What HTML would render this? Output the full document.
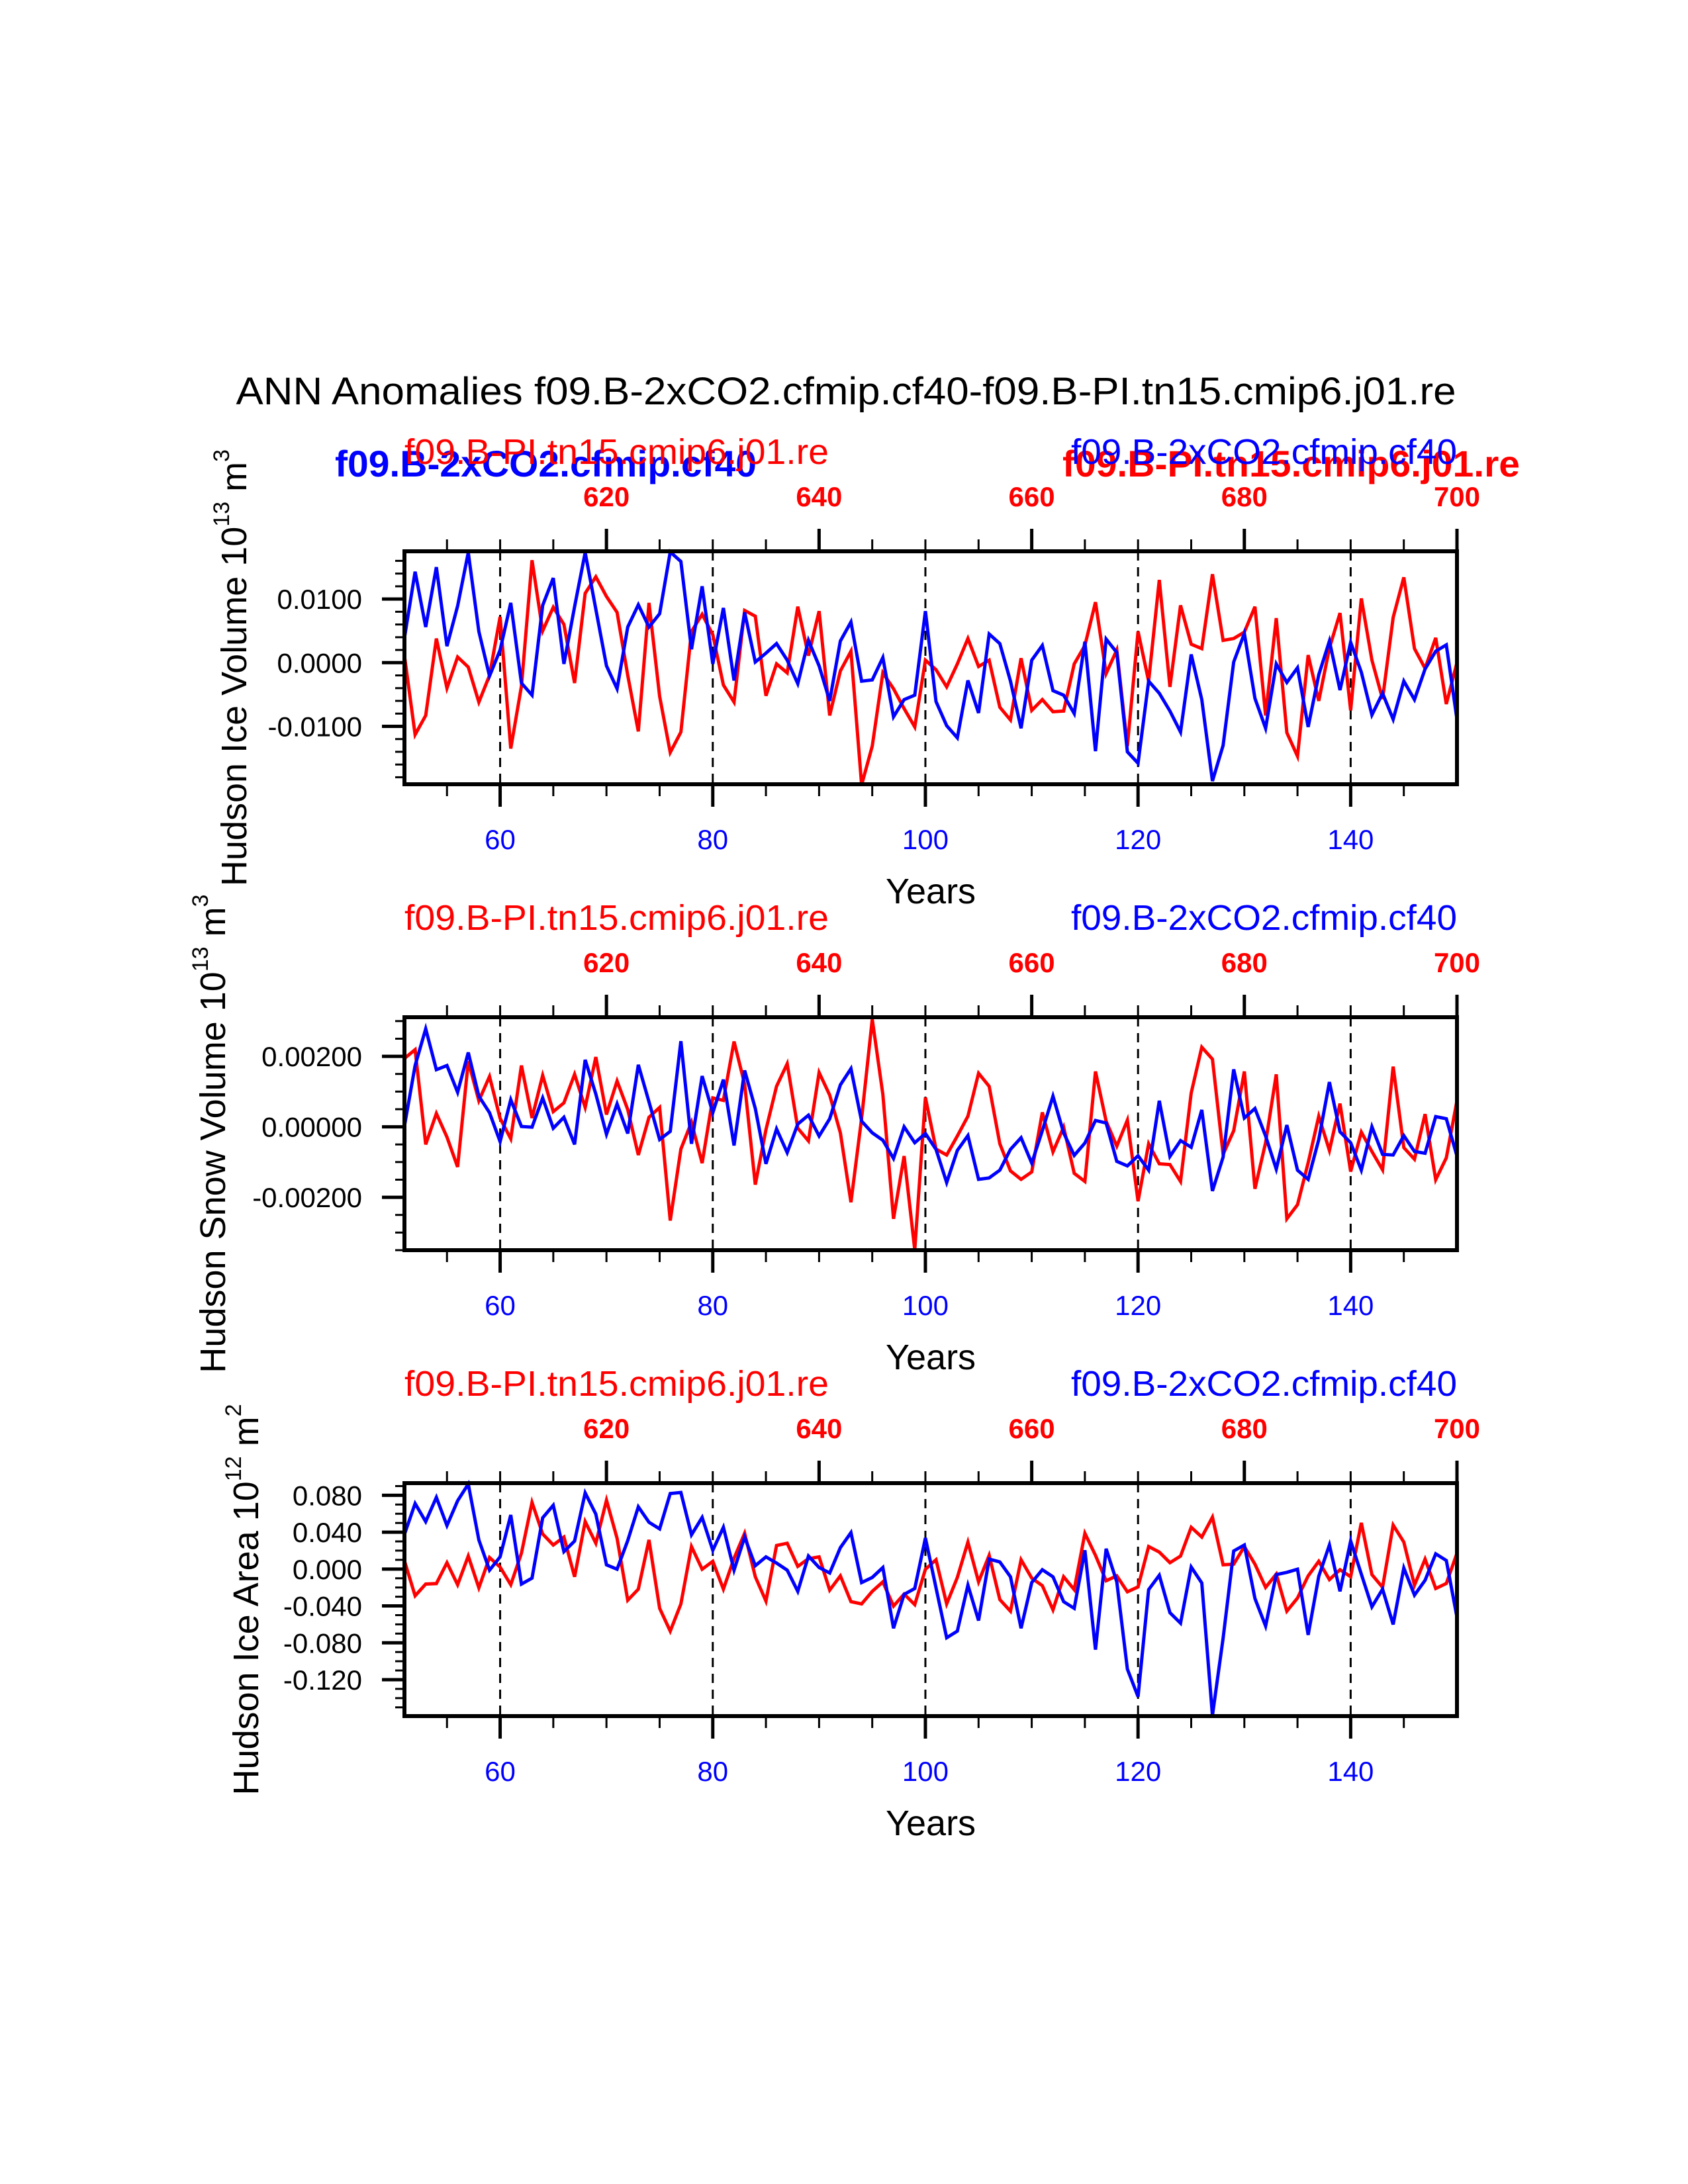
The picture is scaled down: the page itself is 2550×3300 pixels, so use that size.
<!DOCTYPE html>
<html><head><meta charset="utf-8">
<style>
html,body{margin:0;padding:0;background:#fff;}
svg{display:block;font-family:"Liberation Sans",Arial,sans-serif;}
</style></head>
<body>
<svg id="chart" xmlns="http://www.w3.org/2000/svg" width="2550" height="3300" viewBox="0 0 2550 3300">
<rect width="2550" height="3300" fill="#fff"/>
<text x="1278" y="611" font-size="58" text-anchor="middle" textLength="1843" lengthAdjust="spacingAndGlyphs">ANN Anomalies f09.B-2xCO2.cfmip.cf40-f09.B-PI.tn15.cmip6.j01.re</text>
</svg>
<script>
// ---------- data (years 51..150) ----------
const years = Array.from({length:100},(_,i)=>51+i);
const iceVolB = [0.0039,0.0143,0.0056,0.015,0.0026,0.0089,0.0173,0.0049,-0.0021,0.002,0.0094,-0.0032,-0.0051,0.009,0.0133,-0.0002,0.0088,0.0173,0.0084,-0.0005,-0.0041,0.0056,0.0091,0.0056,0.0077,0.0174,0.0159,0.0021,0.012,-0.0002,0.0086,-0.0028,0.0079,0.0001,0.0015,0.003,0.0004,-0.0033,0.0035,-0.0005,-0.006,0.0034,0.0064,-0.0029,-0.0027,0.0008,-0.0085,-0.0058,-0.0051,0.0081,-0.0061,-0.0099,-0.0118,-0.0028,-0.0079,0.0045,0.003,-0.0029,-0.0103,0.0004,0.0027,-0.0044,-0.0051,-0.008,0.0033,-0.0139,0.0037,0.0016,-0.014,-0.0158,-0.0029,-0.0048,-0.0076,-0.0109,0.0013,-0.0058,-0.0186,-0.013,0.0001,0.0046,-0.0056,-0.0103,-0.0002,-0.0031,-0.0008,-0.0101,-0.0019,0.0034,-0.0043,0.0032,-0.0015,-0.0082,-0.0048,-0.0089,-0.0029,-0.0058,-0.001,0.0018,0.0028,-0.0089];
const iceVolR = [0.0011,-0.0113,-0.0083,0.0038,-0.004,0.0009,-0.0007,-0.0062,-0.002,0.0072,-0.0135,-0.0037,0.0161,0.005,0.0087,0.006,-0.0032,0.0109,0.0135,0.0104,0.0079,-0.002,-0.0108,0.0094,-0.0053,-0.0141,-0.0109,0.0049,0.0076,0.0044,-0.0035,-0.0062,0.0082,0.0073,-0.0052,-0.0002,-0.0016,0.0088,0.0011,0.0081,-0.0083,-0.0013,0.0018,-0.0192,-0.0131,-0.0016,-0.0041,-0.0072,-0.0101,0.0004,-0.0011,-0.0038,-0.0002,0.0038,-0.0006,0.0004,-0.007,-0.009,0.0007,-0.0075,-0.0058,-0.0077,-0.0076,-0.0002,0.0027,0.0095,-0.0017,0.002,-0.0131,0.0049,-0.0029,0.013,-0.0038,0.009,0.0029,0.0022,0.0139,0.0035,0.0038,0.0048,0.0088,-0.0083,0.007,-0.011,-0.0147,0.0012,-0.006,0.0023,0.0078,-0.0075,0.0101,0.0004,-0.0057,0.0071,0.0134,0.0022,-0.0009,0.0039,-0.0065,0.0];
const snowB = [0.00002,0.00174,0.00278,0.00162,0.00174,0.00098,0.00211,0.00087,0.0004,-0.00042,0.00077,0.00001,-0.00001,0.00082,-0.00004,0.00027,-0.0005,0.0019,0.00093,-0.00021,0.00065,-0.00019,0.00176,0.00071,-0.00036,-0.00013,0.00243,-0.00048,0.00144,0.0004,0.00134,-0.00053,0.0016,0.00052,-0.00105,-0.00006,-0.00073,0.00008,0.00033,-0.00026,0.00023,0.00119,0.00165,0.00016,-0.00017,-0.00038,-0.0009,0.0,-0.00045,-0.00019,-0.00064,-0.00158,-0.00067,-0.00025,-0.00149,-0.00145,-0.00123,-0.00064,-0.00031,-0.00103,-0.00011,0.00087,-0.00017,-0.00081,-0.00046,0.00018,0.00011,-0.00098,-0.00111,-0.00082,-0.00123,0.00074,-0.00084,-0.00039,-0.00058,0.00048,-0.00182,-0.00086,0.00163,0.00025,0.00052,-0.00026,-0.0012,0.00005,-0.00123,-0.00149,-0.00036,0.00127,-0.00014,-0.00045,-0.00123,0.0,-0.00078,-0.0008,-0.00025,-0.0007,-0.00075,0.00029,0.00023,-0.00083];
const snowR = [0.00194,0.00219,-0.0005,0.00038,-0.00029,-0.00114,0.00186,0.00074,0.00143,0.00024,-0.00034,0.00174,0.00025,0.00146,0.00043,0.00068,0.00149,0.00055,0.00198,0.00035,0.0013,0.00049,-0.0008,0.00027,0.00055,-0.00266,-0.00063,0.00013,-0.00103,0.00082,0.00075,0.00242,0.00121,-0.00164,-0.00008,0.00115,0.00179,-0.00004,-0.0004,0.00154,0.0009,-0.00017,-0.00214,0.00024,0.00305,0.00092,-0.00261,-0.00083,-0.00349,0.00083,-0.00063,-0.0008,-0.00026,0.0003,0.00152,0.00115,-0.00048,-0.00125,-0.00149,-0.00128,0.00041,-0.00071,-0.00001,-0.00132,-0.00155,0.00157,0.00016,-0.00055,0.00019,-0.00211,-0.00048,-0.00105,-0.00107,-0.00155,0.00096,0.00226,0.00192,-0.00078,-0.00011,0.00157,-0.00176,-0.00045,0.00149,-0.00261,-0.00221,-0.00102,0.0003,-0.00067,0.00066,-0.00127,-0.00015,-0.0007,-0.00122,0.00171,-0.00059,-0.00092,0.00036,-0.0015,-0.00088,0.00074];
const areaB = [0.0376,0.0711,0.0515,0.0778,0.0472,0.074,0.0922,0.0316,-0.0012,0.0132,0.0587,-0.0163,-0.0098,0.0556,0.0692,0.0189,0.0304,0.0826,0.0596,0.0046,-0.0002,0.0309,0.0675,0.0508,0.0436,0.0819,0.0831,0.0371,0.056,0.0204,0.0453,-0.0012,0.0347,0.0036,0.0132,0.0065,-0.0012,-0.0242,0.0141,0.0017,-0.0043,0.0232,0.0395,-0.0146,-0.0091,0.0017,-0.0642,-0.0275,-0.0211,0.0337,-0.0204,-0.0745,-0.0673,-0.0175,-0.0558,0.0108,0.0077,-0.0084,-0.0642,-0.0146,-0.0007,-0.0084,-0.0354,-0.0426,0.0204,-0.0874,0.022,-0.0139,-0.1085,-0.1384,-0.0223,-0.0067,-0.0474,-0.0587,0.0022,-0.0151,-0.1588,-0.075,0.0196,0.0261,-0.0319,-0.0618,-0.006,-0.0036,-0.0002,-0.0714,-0.0079,0.0261,-0.0242,0.0304,-0.0055,-0.041,-0.0218,-0.0601,0.0012,-0.0283,-0.0122,0.0165,0.0093,-0.0522];
const areaR = [0.0089,-0.029,-0.0163,-0.0158,0.0069,-0.017,0.0141,-0.0204,0.0125,0.0022,-0.017,0.0172,0.0723,0.0381,0.0261,0.0347,-0.0084,0.0515,0.028,0.0747,0.0333,-0.0338,-0.0218,0.0316,-0.0426,-0.0673,-0.0378,0.0244,-0.0002,0.0084,-0.0218,0.0117,0.0388,-0.0084,-0.0347,0.0256,0.028,0.0029,0.0113,0.0132,-0.0228,-0.0074,-0.0354,-0.0378,-0.0242,-0.0139,-0.0402,-0.0271,-0.0386,-0.0003,0.0101,-0.0378,-0.0091,0.0292,-0.0139,0.0149,-0.0331,-0.0457,0.0101,-0.0098,-0.018,-0.0443,-0.0084,-0.0223,0.0388,0.0149,-0.0127,-0.0074,-0.0247,-0.0194,0.0244,0.0184,0.0069,0.0141,0.0453,0.0347,0.0563,0.0046,0.0053,0.0244,0.0053,-0.0199,-0.0055,-0.0457,-0.0314,-0.0074,0.0084,-0.0115,-0.0007,-0.0084,0.0501,-0.006,-0.0199,0.0477,0.0292,-0.0175,0.0108,-0.0211,-0.0156,0.0172];
const bottomTickLabels = [60,80,100,120,140];
const topTickLabels = [620,640,660,680,700];
const iceVolTicks = [0.01,0,-0.01];
const iceVolTickLabels = ["0.0100","0.0000","-0.0100"];
const snowTicks = [0.002,0,-0.002];
const snowTickLabels = ["0.00200","0.00000","-0.00200"];
const areaTicks = [0.08,0.04,0,-0.04,-0.08,-0.12];
const areaTickLabels = ["0.080","0.040","0.000","-0.040","-0.080","-0.120"];

const NS="http://www.w3.org/2000/svg";
const svg=document.getElementById('chart');
const L=611,R=2201,H=352;
const X0=51,X1=150,YEAR_OFFSET=550;
function xs(y){return L+(y-X0)*(R-L)/(X1-X0);}
function mk(tag,attrs,parent){const e=document.createElementNS(NS,tag);for(const k in attrs)e.setAttribute(k,attrs[k]);(parent||svg).appendChild(e);return e;}

const panels=[
 {top:833,dom:[-0.0191,0.0175],b:iceVolB,r:iceVolR,ticks:iceVolTicks,labels:iceVolTickLabels,minor:0.002,name:'ice-volume',
  title:['Hudson Ice Volume 10','13',' m','3'],titleX:372,first:true},
 {top:1537,dom:[-0.0035,0.00311],b:snowB,r:snowR,ticks:snowTicks,labels:snowTickLabels,minor:0.0005,name:'snow-volume',
  title:['Hudson Snow Volume 10','13',' m','3'],titleX:340},
 {top:2241,dom:[-0.1595,0.0932],b:areaB,r:areaR,ticks:areaTicks,labels:areaTickLabels,minor:0.01,name:'ice-area',
  title:['Hudson Ice Area 10','12',' m','2'],titleX:390}
];

panels.forEach((p,pi)=>{
  const g=mk('g',{});
  
  
  const T=p.top,B=p.top+H;
  const ys=v=>B-(v-p.dom[0])/(p.dom[1]-p.dom[0])*H;
  // dashed year lines
  bottomTickLabels.forEach(yr=>{
    const l=mk('line',{x1:xs(yr),x2:xs(yr),y1:T,y2:B,stroke:'#000','stroke-width':3,'stroke-dasharray':'14 10'},g);
    
    
  });
  // series
  [[p.r,'#ff0000','red-series'],[p.b,'#0000ff','blue-series']].forEach(([arr,col,nm])=>{
    const pts=arr.map((v,i)=>xs(years[i]).toFixed(1)+','+ys(v).toFixed(1)).join(' ');
    const pl=mk('polyline',{points:pts,fill:'none',stroke:col,'stroke-width':5,'stroke-linejoin':'miter'},g);
    
    
  });
  // x ticks
  for(let yr=55;yr<150;yr+=5){
    const major=bottomTickLabels.includes(yr);
    const len=major?34:18;
    const t1=mk('line',{x1:xs(yr),x2:xs(yr),y1:B,y2:B+len,stroke:'#000','stroke-width':major?5:3},g);
    
    
    const tmaj=((yr+YEAR_OFFSET)%20===0);
    const t2=mk('line',{x1:xs(yr),x2:xs(yr),y1:T,y2:T-(tmaj?34:18),stroke:'#000','stroke-width':tmaj?5:3},g);
    
    
  }
  const tr=mk('line',{x1:R,x2:R,y1:T,y2:T-34,stroke:'#000','stroke-width':5},g);
  
  
  // y minor ticks
  const k0=Math.ceil(p.dom[0]/p.minor),k1=Math.floor(p.dom[1]/p.minor);
  for(let k=k0;k<=k1;k++){
    const v=k*p.minor;
    const isMajor=p.ticks.some(t=>Math.abs(t-v)<p.minor/10);
    const yl=mk('line',{x1:L,x2:L-(isMajor?34:14),y1:ys(v),y2:ys(v),stroke:'#000','stroke-width':isMajor?5:3},g);
    
    
  }
  p.ticks.forEach((v,i)=>{
    const tl=mk('text',{x:547,y:ys(v)+15,'font-size':42,'text-anchor':'end'},g);
    tl.textContent=p.labels[i];
    
    
  });
  // frame
  const fr=mk('rect',{x:L,y:T,width:R-L,height:H,fill:'none',stroke:'#000','stroke-width':6},g);
  
  
  // bottom tick labels
  bottomTickLabels.forEach(yr=>{
    const t=mk('text',{x:xs(yr),y:B+98,'font-size':42,'text-anchor':'middle',fill:'#0000ff'},g);
    t.textContent=String(yr);
    
    
  });
  topTickLabels.forEach(lb=>{
    const t=mk('text',{x:xs(lb-YEAR_OFFSET),y:T-68,'font-size':42,'font-weight':'bold','text-anchor':'middle',fill:'#ff0000'},g);
    t.textContent=String(lb);
    
    
  });
  // x title
  const xt=mk('text',{x:(L+R)/2,y:B+180,'font-size':54,'text-anchor':'middle'},g);
  xt.textContent='Years';
  
  
  // y title
  const cy=T+H/2;
  const yt=mk('text',{x:0,y:0,'font-size':54,'text-anchor':'middle',transform:'translate('+p.titleX+','+cy+') rotate(-90)'},g);
  
  
  p.title.forEach((s,i)=>{
    const ts=mk('tspan',i%2?{'font-size':34,dy:-26}:{dy:i?26:0},yt);
    ts.textContent=s;
  });
  // case labels
  const rl=mk('text',{x:L,y:T-132,'font-size':54,fill:'#ff0000',textLength:641,lengthAdjust:'spacingAndGlyphs'},g);
  rl.textContent='f09.B-PI.tn15.cmip6.j01.re';
  
  
  const bl=mk('text',{x:R,y:T-132,'font-size':54,fill:'#0000ff','text-anchor':'end',textLength:583,lengthAdjust:'spacingAndGlyphs'},g);
  bl.textContent='f09.B-2xCO2.cfmip.cf40';
  
  
  if(p.first){
    const bb=mk('text',{x:506,y:T-113,'font-size':56,'font-weight':'bold',fill:'#0000ff',textLength:637,lengthAdjust:'spacingAndGlyphs'},g);
    bb.textContent='f09.B-2xCO2.cfmip.cf40';
    
    
    svg.appendChild(rl);
    const rb=mk('text',{x:1605,y:T-113,'font-size':56,'font-weight':'bold',fill:'#ff0000',textLength:691,lengthAdjust:'spacingAndGlyphs'},g);
    rb.textContent='f09.B-PI.tn15.cmip6.j01.re';
    
    
    g.appendChild(bl);
  }
});
</script>
</body></html>
